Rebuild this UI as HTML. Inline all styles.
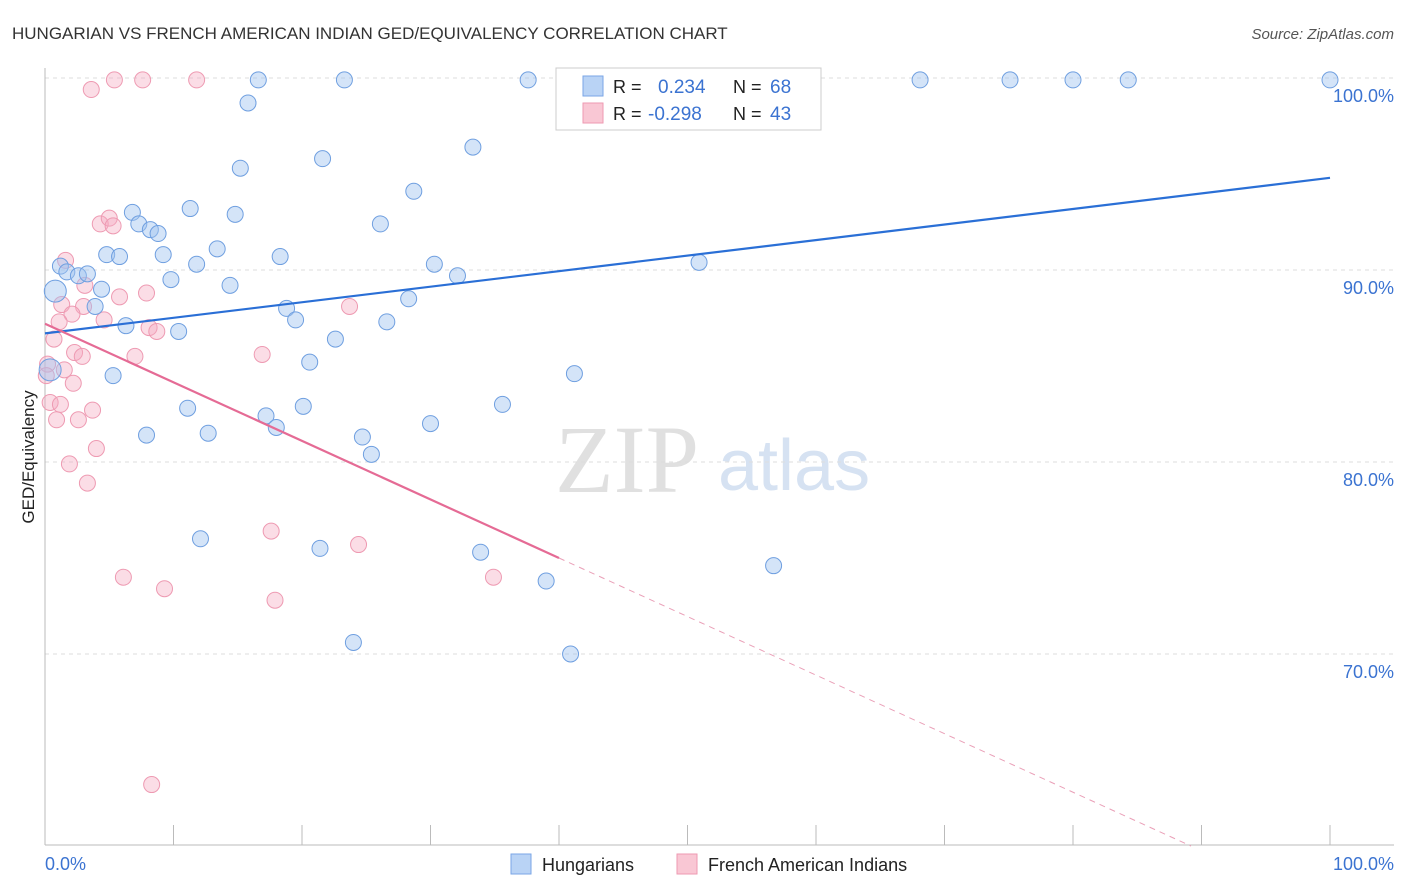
<!DOCTYPE html>
<html><head><meta charset="utf-8"><style>
body{margin:0;background:#fff;font-family:"Liberation Sans",sans-serif;}
svg{display:block}
</style></head><body>
<svg id="c" width="1406" height="892">
<text x="12" y="39" font-size="17" fill="#333">HUNGARIAN VS FRENCH AMERICAN INDIAN GED/EQUIVALENCY CORRELATION CHART</text>
<text x="1394" y="39" font-size="15" fill="#555" font-style="italic" text-anchor="end">Source: ZipAtlas.com</text>
<g><text x="555" y="492" font-family="Liberation Serif,serif" font-size="96" fill="#e0e0e0">ZIP</text><text x="718" y="490" font-size="72" fill="#d6e2f2">atlas</text></g>
<g id="grid"></g><g id="pts"></g><g id="lines"></g>
<text transform="translate(34,457) rotate(-90)" font-size="17" fill="#222" text-anchor="middle">GED/Equivalency</text>
<text x="45" y="870" font-size="18" fill="#3b73d1">0.0%</text>
<text x="1394" y="870" font-size="18" fill="#3b73d1" text-anchor="end">100.0%</text>
<g>
<rect x="556" y="68" width="265" height="62" fill="#fff" stroke="#ccc"/>
<rect x="583" y="76" width="20" height="20" fill="#b9d3f5" stroke="#7aa6e6"/>
<rect x="583" y="103" width="20" height="20" fill="#f9c7d4" stroke="#ee9ab2"/>
<text x="613" y="93" font-size="18" fill="#222">R =</text><text x="658" y="93" font-size="19" fill="#3b73d1">0.234</text>
<text x="733" y="93" font-size="18" fill="#222">N =</text><text x="770" y="93" font-size="19" fill="#3b73d1">68</text>
<text x="613" y="120" font-size="18" fill="#222">R =</text><text x="648" y="120" font-size="19" fill="#3b73d1">-0.298</text>
<text x="733" y="120" font-size="18" fill="#222">N =</text><text x="770" y="120" font-size="19" fill="#3b73d1">43</text>
</g>
<g>
<rect x="511" y="854" width="20" height="20" fill="#b9d3f5" stroke="#7aa6e6"/>
<text x="542" y="871" font-size="18" fill="#222">Hungarians</text>
<rect x="677" y="854" width="20" height="20" fill="#f9c7d4" stroke="#ee9ab2"/>
<text x="708" y="871" font-size="18" fill="#222">French American Indians</text>
</g>
</svg>
<script>
const yTicks=[100,90,80,70];
const yTickLabels=["100.0%","90.0%","80.0%","70.0%"];
const xTicks=[0,10,20,30,40,50,60,70,80,90,100];
const blueX=[16.6,23.3,37.6,53.9,68.1,75.1,80.0,84.3,100,15.8,21.6,33.3,15.2,28.7,6.8,11.3,14.8,7.3,8.2,8.8,26.1,4.8,5.8,9.2,13.4,18.3,11.8,1.2,1.7,2.6,3.3,9.8,14.4,30.3,32.1,50.9,0.8,4.4,3.9,18.8,19.5,28.3,6.3,10.4,26.6,22.6,20.6,0.4,5.3,41.2,11.1,17.2,20.1,35.6,18.0,30.0,7.9,12.7,24.7,25.4,12.1,21.4,33.9,39.0,56.7,24.0,40.9];
const blueY=[99.9,99.9,99.9,99.9,99.9,99.9,99.9,99.9,99.9,98.7,95.8,96.4,95.3,94.1,93.0,93.2,92.9,92.4,92.1,91.9,92.4,90.8,90.7,90.8,91.1,90.7,90.3,90.2,89.9,89.7,89.8,89.5,89.2,90.3,89.7,90.4,88.9,89.0,88.1,88.0,87.4,88.5,87.1,86.8,87.3,86.4,85.2,84.8,84.5,84.6,82.8,82.4,82.9,83.0,81.8,82.0,81.4,81.5,81.3,80.4,76.0,75.5,75.3,73.8,74.6,70.6,70.0];
const pinkX=[5.4,7.6,11.8,3.6,4.3,5.0,5.3,1.6,3.1,1.3,3.0,5.8,7.9,2.1,1.1,4.6,8.1,8.7,23.7,0.7,2.3,2.9,7.0,16.9,0.2,1.5,2.2,0.4,1.2,3.7,0.9,2.6,4.0,1.9,3.3,17.6,24.4,6.1,9.3,34.9,17.9,8.3,0.1];
const pinkY=[99.9,99.9,99.9,99.4,92.4,92.7,92.3,90.5,89.2,88.2,88.1,88.6,88.8,87.7,87.3,87.4,87.0,86.8,88.1,86.4,85.7,85.5,85.5,85.6,85.1,84.8,84.1,83.1,83.0,82.7,82.2,82.2,80.7,79.9,78.9,76.4,75.7,74.0,73.4,74.0,72.8,63.2,84.5];
const blueTrend=[86.7,94.8];
const pinkTrend=[87.2,-0.305];
const NS="http://www.w3.org/2000/svg";
const X=v=>45+v*12.85, Y=v=>78+(100-v)*19.2;
function mk(t,a,p){const e=document.createElementNS(NS,t);for(const k in a)e.setAttribute(k,a[k]);p.appendChild(e);return e;}
const g=document.getElementById('grid');
yTicks.forEach((t,i)=>{const l=mk('line',{x1:45,x2:1394,y1:Y(t),y2:Y(t),stroke:'#ddd','stroke-dasharray':'4,4'},g);


const tx=mk('text',{x:1394,y:Y(t)+24,'font-size':18,fill:'#3b73d1','text-anchor':'end'},g);tx.textContent=yTickLabels[i];

});
mk('line',{x1:45,x2:45,y1:68,y2:845,stroke:'#bbb'},g);
mk('line',{x1:45,x2:1394,y1:845,y2:845,stroke:'#bbb'},g);
xTicks.forEach(t=>{const l=mk('line',{x1:X(t),x2:X(t),y1:825,y2:845,stroke:'#bbb'},g);

});
const p=document.getElementById('pts');
pinkX.forEach((x,i)=>{const c=mk('circle',{cx:X(x),cy:Y(pinkY[i]),r:8,fill:'rgba(246,170,192,0.4)',stroke:'#ee9ab2','stroke-width':1},p);

});
blueX.forEach((x,i)=>{const big=(i==36||i==47);const c=mk('circle',{cx:X(x),cy:Y(blueY[i]),r:big?11:8,fill:'rgba(160,195,240,0.45)',stroke:'#6f9fe0','stroke-width':1},p);

});
const L=document.getElementById('lines');
let b=mk('line',{x1:X(0),y1:Y(blueTrend[0]),x2:X(100),y2:Y(blueTrend[1]),stroke:'#2a6fd6','stroke-width':2.2},L);


const pf=x=>pinkTrend[0]+pinkTrend[1]*x;
let s=mk('line',{x1:X(0),y1:Y(pf(0)),x2:X(40),y2:Y(pf(40)),stroke:'#e56b95','stroke-width':2.2},L);


const xe=(pinkTrend[0]-60)/-pinkTrend[1];
let d=mk('line',{x1:X(40),y1:Y(pf(40)),x2:X(xe),y2:Y(60),stroke:'#eaa0b8','stroke-width':1,'stroke-dasharray':'6,5'},L);


</script>
</body></html>
